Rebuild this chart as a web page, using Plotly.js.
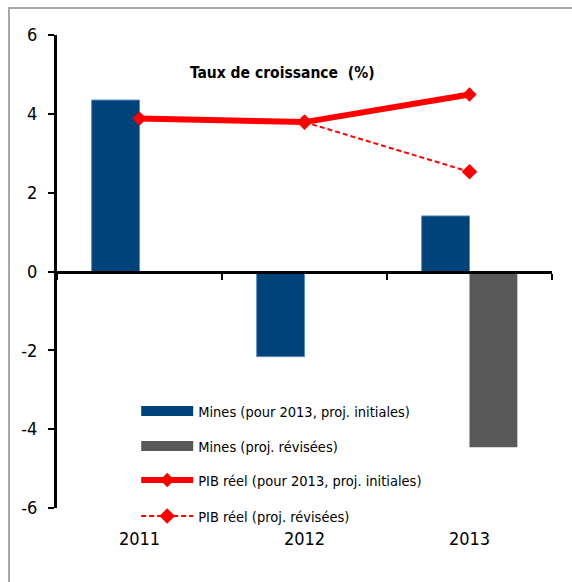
<!DOCTYPE html>
<html>
<head>
<meta charset="utf-8">
<script src="https://cdn.plot.ly/plotly-3.0.1.min.js"></script>
<style>
  html, body { margin: 0; padding: 0; background: #fff; }
  #wrap { position: relative; width: 572px; height: 582px; overflow: hidden; }
  #frame { position: absolute; left: 8px; top: 7px; width: 600px; height: 600px;
           border-left: 2px solid #a8a8a8; border-top: 2px solid #a8a8a8; box-sizing: border-box; }
  #chart { position: absolute; left: 0; top: 0; width: 572px; height: 582px; }
</style>
</head>
<body>
<div id="wrap">
  <div id="frame"></div>
  <div id="chart"></div>
</div>
<script>
const years = ['2011', '2012', '2013'];
const minesInit = [4.35, -2.16, 1.41];
const minesRevYears = ['2013'];
const minesRev = [-4.46];
const pibInit = [3.88, 3.79, 4.49];
const pibRevYears = ['2012', '2013'];
const pibRev = [3.79, 2.53];
const yTicks = [-6, -4, -2, 0, 2, 4, 6];

const names = [
  'Mines (pour 2013, proj. initiales)',
  'Mines (proj. révisées)',
  'PIB réel (pour 2013, proj. initiales)',
  'PIB réel (proj. révisées)'
];

const FONT = '"DejaVu Sans Condensed", "Liberation Sans Narrow", sans-serif';
const RED = '#ff0000';
const BLUE = '#00437a';
const GREY = '#595959';

const traces = [
  { type: 'bar', x: years, y: minesInit, name: names[0], showlegend: false,
    marker: { color: BLUE, line: { color: '#5a8cc4', width: 1 } } },
  { type: 'bar', x: minesRevYears, y: minesRev, name: names[1], showlegend: false,
    marker: { color: GREY, line: { color: GREY, width: 0 } } },
  { type: 'scatter', mode: 'lines+markers', x: years, y: pibInit, name: names[2], legend: 'legend3',
    line: { color: RED, width: 6 }, marker: { symbol: 'diamond', size: 11, color: RED } },
  { type: 'scatter', mode: 'lines+markers', x: pibRevYears, y: pibRev, name: names[3], legend: 'legend4',
    line: { color: RED, width: 2, dash: '5px,3px' }, marker: { symbol: 'diamond', size: 12, color: RED } },
  // legend swatches for the bar series (wide rectangles as in the original)
  { type: 'scatter', mode: 'lines', x: [null], y: [null], name: names[0], legend: 'legend',
    line: { color: BLUE, width: 14 }, hoverinfo: 'skip' },
  { type: 'scatter', mode: 'lines', x: [null], y: [null], name: names[1], legend: 'legend2',
    line: { color: GREY, width: 14 }, hoverinfo: 'skip' },
  { type: 'scatter', mode: 'none', x: years, y: [null, null, null], xaxis: 'x2', showlegend: false, hoverinfo: 'skip' }
];

function leg(y) {
  return { x: 0.16, y: y, xanchor: 'left', yanchor: 'middle', bgcolor: 'rgba(0,0,0,0)',
           itemwidth: 52, font: { family: FONT, size: 14.5, color: '#000' } };
}

const layout = {
  width: 572, height: 582,
  margin: { l: 57, r: 20, t: 35, b: 74 },
  paper_bgcolor: 'rgba(0,0,0,0)', plot_bgcolor: 'rgba(0,0,0,0)',
  barmode: 'group', bargap: 0.42, bargroupgap: 0,
  title: { text: '<b>Taux de croissance  (%)</b>', font: { family: FONT, size: 15.5, color: '#000' },
           x: 0.455, xref: 'paper', xanchor: 'center', y: 1 - 73 / 582, yanchor: 'middle' },
  xaxis: { type: 'category', categoryorder: 'array', categoryarray: years, range: [-0.5, 2.5],
           showline: false, ticks: '', showgrid: false, zeroline: false,
           tickfont: { family: FONT, size: 18, color: '#000' }, ticklabelstandoff: 18 },
  xaxis2: { type: 'category', categoryorder: 'array', categoryarray: years, range: [-0.5, 2.5],
            overlaying: 'x', anchor: 'free', position: 0.5, side: 'bottom',
            showline: true, linewidth: 3, linecolor: '#000', ticks: 'outside', tickson: 'boundaries',
            ticklen: 6, tickwidth: 2, tickcolor: '#000', showticklabels: false, showgrid: false, zeroline: false },
  yaxis: { range: [-6, 6], tickvals: yTicks, ticktext: yTicks.map(String), showgrid: false, zeroline: false,
           showline: true, linewidth: 3, linecolor: '#000', ticks: 'outside', ticklen: 6, tickwidth: 2,
           tickcolor: '#000', tickfont: { family: FONT, size: 18, color: '#000' }, ticklabelstandoff: 7 },
  legend: leg(0.205),
  legend2: leg(0.131),
  legend3: leg(0.059),
  legend4: leg(-0.017),
  showlegend: true
};

Plotly.newPlot('chart', traces, layout, { displayModeBar: false, staticPlot: true });
</script>
</body>
</html>
